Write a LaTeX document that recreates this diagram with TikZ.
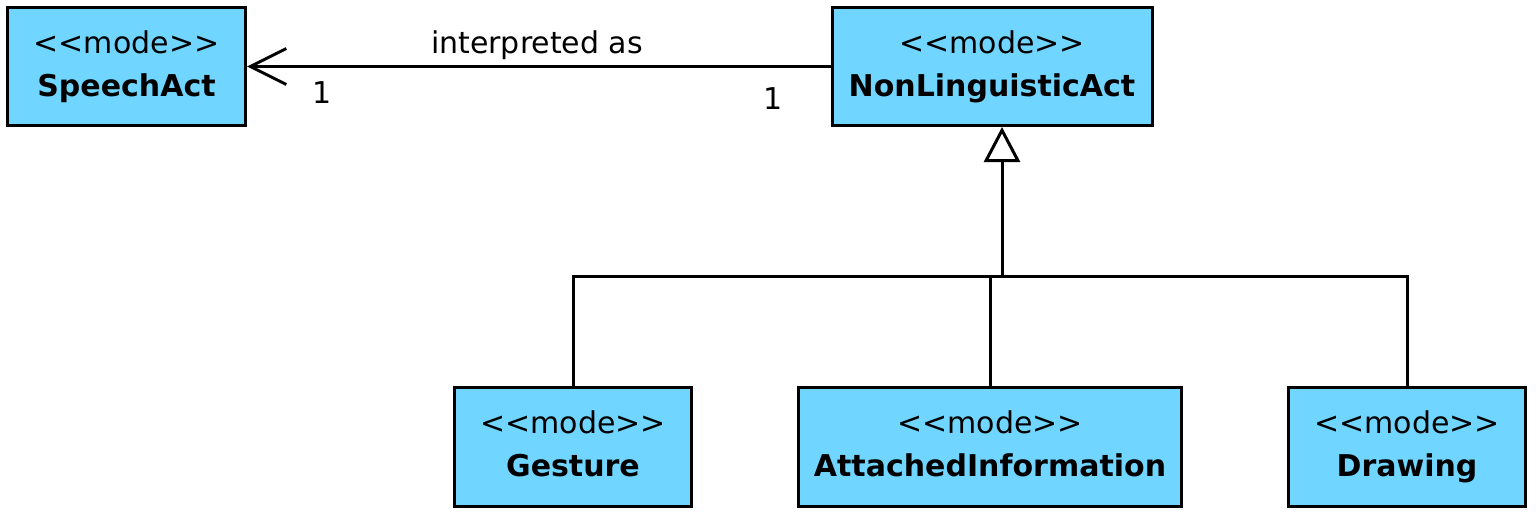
\documentclass[tikz,border=0pt]{standalone}
\usepackage{fontspec}
\setmainfont{DejaVu Sans}
\usetikzlibrary{arrows.meta}
\definecolor{umlblue}{RGB}{112,214,255}
\newcommand\umlmode{<\kern0pt<mode>\kern0pt>}
\begin{document}
\begin{tikzpicture}[x=1pt,y=-1pt,
  umlbox/.style={draw=black, fill=umlblue, line width=3pt, inner sep=0pt, align=center,
    minimum height=118pt, font=\fontsize{30}{43}\selectfont},
  conn/.style={line width=3pt},
  lbl/.style={font=\fontsize{30}{36}\selectfont, inner sep=0pt, anchor=base}]
\useasboundingbox (0,0) rectangle (1539,519);
\node[umlbox, minimum width=238pt] (speech) at (126.5,66.5) {\umlmode\\\textbf{SpeechAct}\vphantom{g}};
\node[umlbox, minimum width=320pt] (nla) at (992,66.5) {\umlmode\\\textbf{NonLinguisticAct}\vphantom{g}};
\node[umlbox, minimum width=237pt, minimum height=119pt] (gest) at (573,447) {\umlmode\\\textbf{Gesture}\vphantom{g}};
\node[umlbox, minimum width=383pt, minimum height=119pt] (att) at (990,447) {\umlmode\\\textbf{AttachedInformation}\vphantom{g}};
\node[umlbox, minimum width=237pt, minimum height=119pt] (drw) at (1407,447) {\umlmode\\\textbf{Drawing}\vphantom{g}};
% association
\draw[conn, -{Straight Barb[length=36pt,width=36pt]}] (nla.west) -- (speech.east);
\node[lbl] (assoclbl) at (537,53) {interpreted as};
\node[lbl] (mult1) at (322,103) {1};
\node[lbl] (mult2) at (773,110) {1};
% generalization
\coordinate (junc) at (1002,276);
\draw[conn, -{Triangle[open,length=35pt,width=36pt]}] (junc) -- (nla.south -| junc);
\draw[conn] (gest.north) -- (gest.north |- junc) -- (drw.north |- junc) -- (drw.north);
\draw[conn] (att.north) -- (att.north |- junc);
\end{tikzpicture}
\end{document}
